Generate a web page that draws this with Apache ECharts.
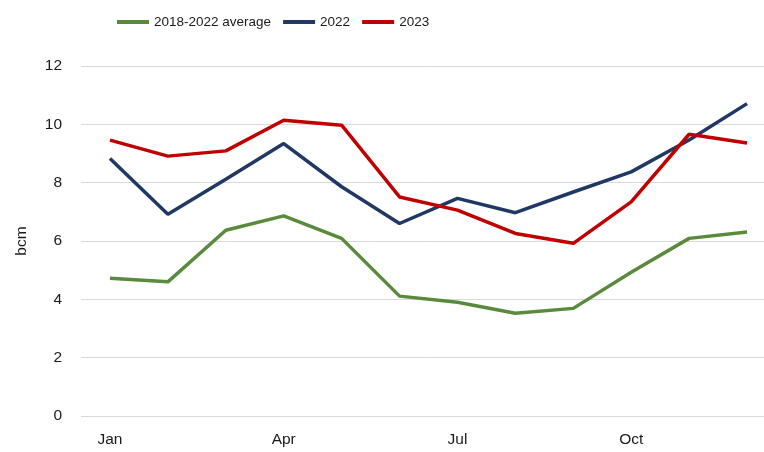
<!DOCTYPE html>
<html>
<head>
<meta charset="utf-8">
<script src="https://cdn.jsdelivr.net/npm/echarts@6/dist/echarts.min.js"></script>
<style>html,body{margin:0;padding:0;background:#fff;overflow:hidden;width:764px;height:452px;}#c{width:776px;height:452px;}</style>
</head>
<body>
<div id="c"></div>
<script>
var months = ['Jan','Feb','Mar','Apr','May','Jun','Jul','Aug','Sep','Oct','Nov','Dec'];
var avg2018_2022 = [4.72, 4.60, 6.37, 6.86, 6.09, 4.11, 3.90, 3.52, 3.69, 4.93, 6.09, 6.31];
var y2022 = [8.83, 6.92, 8.12, 9.34, 7.86, 6.60, 7.46, 6.97, 7.68, 8.37, 9.46, 10.71];
var y2023 = [9.46, 8.91, 9.09, 10.14, 9.97, 7.51, 7.06, 6.26, 5.92, 7.34, 9.66, 9.36];
var yTicks = {min: 0, max: 12, interval: 2};
var seriesNames = ['2018-2022 average', '2022', '2023'];
var colors = ['#5A8A3C', '#1F3864', '#C00000'];

var FONT = '"Liberation Sans", Arial, sans-serif';
var chart = echarts.init(document.getElementById('c'), null, {renderer: 'canvas'});
var dataSets = [avg2018_2022, y2022, y2023];
chart.setOption({
  animation: false,
  backgroundColor: '#fff',
  legend: {
    left: 117, top: 15, padding: 0,
    icon: 'rect', itemWidth: 32, itemHeight: 4, itemGap: 12,
    textStyle: {fontFamily: FONT, fontSize: 13.5, color: '#1a1a1a'},
    data: seriesNames
  },
  grid: {left: 81, right: 0, top: 66, bottom: 36},
  xAxis: {
    type: 'category', data: months, boundaryGap: true,
    axisLine: {show: false}, axisTick: {show: false},
    axisLabel: {interval: 2, margin: 16, fontFamily: FONT, fontSize: 15.5, color: '#1a1a1a'}
  },
  yAxis: {
    type: 'value', min: yTicks.min, max: yTicks.max, interval: yTicks.interval,
    name: 'bcm', nameLocation: 'middle', nameGap: 51, nameRotate: 90,
    nameTextStyle: {fontFamily: FONT, fontSize: 15.5, color: '#1a1a1a'},
    axisLine: {show: false}, axisTick: {show: false},
    axisLabel: {margin: 19, fontFamily: FONT, fontSize: 15.5, color: '#1a1a1a'},
    splitLine: {lineStyle: {color: '#d9d9d9', width: 1}}
  },
  series: seriesNames.map(function(n, i){
    return {
      name: n, type: 'line', data: dataSets[i],
      symbol: 'none', smooth: false,
      lineStyle: {color: colors[i], width: 3.5},
      itemStyle: {color: colors[i]}
    };
  })
});
</script>
</body>
</html>
